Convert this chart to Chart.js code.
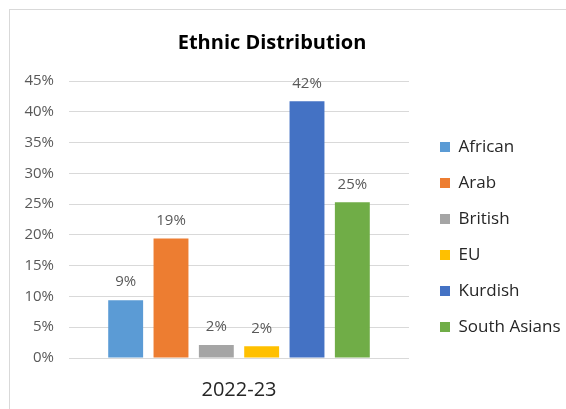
<!DOCTYPE html>
<html>
<head>
<meta charset="utf-8">
<script src="https://cdn.jsdelivr.net/npm/chart.js@4.4.0/dist/chart.umd.min.js"></script>
<style>
  html, body { margin: 0; padding: 0; background: #fff; overflow: hidden; }
  #frame { position: absolute; left: 9px; top: 9px; width: 620px; height: 460px; border: 1px solid #d9d9d9; }
  #wrap { position: absolute; left: 0; top: 0; width: 566px; height: 409px; }
</style>
</head>
<body>
<div id="frame"></div>
<div id="wrap"><canvas id="chart"></canvas></div>
<script>
const chartTitle = 'Ethnic Distribution';
const categories = ['2022-23'];
const groups = ['African', 'Arab', 'British', 'EU', 'Kurdish', 'South Asians'];
const values = [9.4, 19.4, 2.1, 1.9, 41.7, 25.3];
const colors = ['#5B9BD5', '#ED7D31', '#A5A5A5', '#FFC000', '#4472C4', '#70AD47'];
const yMax = 45;
const yStep = 5;

const FONT = '"Open Sans", "Noto Sans", sans-serif';

// titre dessiné à la main (centré comme dans Excel, pas sur la zone du graphe)
const titlePlugin = {
  id: 'excelTitle',
  afterDraw(chart) {
    const ctx = chart.ctx;
    ctx.save();
    ctx.font = 'bold 20px ' + FONT;
    ctx.fillStyle = '#000';
    ctx.textAlign = 'center';
    ctx.textBaseline = 'middle';
    ctx.fillText(chartTitle, 272, 43);
    ctx.restore();
  }
};

// étiquettes de valeur au-dessus des barres
const valueLabels = {
  id: 'valueLabels',
  afterDatasetsDraw(chart) {
    const ctx = chart.ctx;
    ctx.save();
    ctx.font = '15px ' + FONT;
    ctx.fillStyle = '#595959';
    ctx.textAlign = 'center';
    ctx.textBaseline = 'middle';
    chart.data.datasets.forEach((ds, i) => {
      chart.getDatasetMeta(i).data.forEach((bar, j) => {
        ctx.fillText(Math.round(ds.data[j]) + '%', bar.x, bar.y - 18);
      });
    });
    ctx.restore();
  }
};

const datasets = groups.map((g, i) => ({
  label: g,
  data: [values[i]],
  backgroundColor: colors[i],
  borderWidth: 0,
  categoryPercentage: 0.8,
  barPercentage: 0.77
}));

new Chart(document.getElementById('chart'), {
  type: 'bar',
  data: { labels: categories, datasets: datasets },
  options: {
    responsive: true,
    maintainAspectRatio: false,
    animation: false,
    layout: { padding: { left: 24, top: 75, right: 0, bottom: 10 } },
    plugins: {
      title: { display: false },
      tooltip: { enabled: false },
      legend: {
        position: 'right',
        align: 'center',
        maxWidth: 145,
        labels: {
          boxWidth: 10,
          boxHeight: 10,
          padding: 19,
          color: '#262626',
          font: { size: 17, family: FONT }
        }
      }
    },
    scales: {
      x: {
        grid: { display: false, drawTicks: false },
        border: { display: false },
        ticks: { color: '#262626', padding: 20, font: { size: 20, family: FONT } },
        afterFit: s => { s.height = 41; }
      },
      y: {
        min: 0,
        max: yMax,
        ticks: {
          stepSize: yStep,
          padding: 15,
          color: '#595959',
          font: { size: 15, family: FONT },
          callback: v => v + '%'
        },
        grid: { color: '#d9d9d9', drawTicks: false },
        border: { display: false },
        afterFit: s => { s.width = 45; }
      },
      // axes vides, juste pour caler la zone du graphe
      xTop: {
        type: 'category',
        position: 'top',
        grid: { display: false, drawTicks: false },
        border: { display: false },
        ticks: { display: false },
        afterFit: s => { s.height = 6; }
      },
      yRight: {
        type: 'linear',
        position: 'right',
        grid: { display: false, drawTicks: false },
        border: { display: false },
        ticks: { display: false },
        afterFit: s => { s.width = 12; }
      }
    }
  },
  plugins: [titlePlugin, valueLabels]
});
</script>
</body>
</html>
